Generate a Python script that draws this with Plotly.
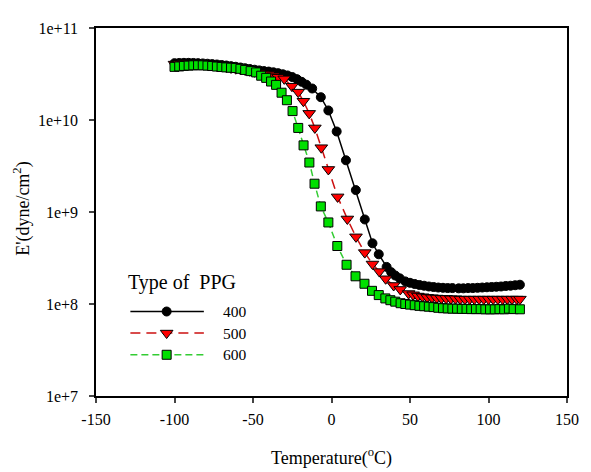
import plotly.graph_objects as go

# ---- data ----
t_400 = [-100, -97, -94, -91, -88, -85, -82, -79, -76, -73, -70, -67, -64, -61, -58, -55,
         -52, -49, -46, -43, -40, -37, -34, -31, -28, -25, -22, -19, -16, -12.3,
         -6.8, -2.0, 3.3, 9.2, 15.5, 21.2, 26.1, 30.1, 35.1, 38, 40.6, 43.5, 47, 50, 53, 56,
         59, 62, 65, 68, 71, 74, 77, 81, 84, 87, 90, 93, 96, 99, 102, 105, 108, 111, 114, 117, 120]
e_400 = [4.15e10, 4.17e10, 4.18e10, 4.18e10, 4.17e10, 4.15e10, 4.12e10, 4.09e10, 4.05e10, 4.01e10,
         3.96e10, 3.91e10, 3.85e10, 3.79e10, 3.72e10, 3.65e10, 3.58e10, 3.52e10, 3.46e10, 3.40e10,
         3.36e10, 3.30e10, 3.23e10, 3.14e10, 3.05e10, 2.93e10, 2.78e10, 2.60e10, 2.42e10, 2.20e10,
         1.77e10, 1.27e10, 7.5e9, 3.65e9, 1.73e9, 8.3e8, 4.57e8, 3.47e8, 2.53e8, 2.22e8, 2.04e8,
         1.90e8, 1.76e8, 1.70e8, 1.65e8, 1.61e8, 1.58e8, 1.55e8, 1.53e8, 1.51e8, 1.50e8, 1.49e8,
         1.49e8, 1.48e8, 1.48e8, 1.49e8, 1.49e8, 1.50e8, 1.51e8, 1.52e8, 1.53e8, 1.54e8, 1.55e8,
         1.57e8, 1.58e8, 1.60e8, 1.62e8]

t_500 = [-100, -97, -94, -91, -88, -85, -82, -79, -76, -73, -70, -67, -64, -61, -58, -55,
         -52, -49, -46, -43, -40, -37, -34, -30.1, -25.2, -21.2, -17.9, -14.2, -10.6, -6.5,
         -2.0, 3.9, 10.1, 15.6, 21.2, 26.1, 30.5, 34.5, 39.6, 43.8, 49.1, 52, 55, 58, 61, 64,
         67, 70, 73, 76, 79, 82, 85, 88, 91, 94, 97, 100, 103, 106, 109, 112, 115, 118, 120]
e_500 = [4.05e10, 4.08e10, 4.10e10, 4.10e10, 4.08e10, 4.05e10, 4.01e10, 3.97e10, 3.92e10, 3.87e10,
         3.81e10, 3.75e10, 3.68e10, 3.61e10, 3.55e10, 3.49e10, 3.42e10, 3.34e10, 3.27e10, 3.19e10,
         3.12e10, 3.02e10, 2.92e10, 2.80e10, 2.33e10, 2.01e10, 1.60e10, 1.18e10, 8.2e9, 5.0e9,
         2.9e9, 1.46e9, 8.4e8, 5.37e8, 3.62e8, 2.72e8, 2.25e8, 1.88e8, 1.59e8, 1.44e8, 1.30e8,
         1.26e8, 1.22e8, 1.20e8, 1.18e8, 1.17e8, 1.16e8, 1.15e8, 1.15e8, 1.14e8, 1.14e8, 1.13e8,
         1.13e8, 1.13e8, 1.13e8, 1.13e8, 1.13e8, 1.13e8, 1.13e8, 1.13e8, 1.13e8, 1.13e8, 1.13e8,
         1.13e8, 1.13e8]

t_600 = [-100, -97, -94, -91, -88, -85, -82, -79, -76, -73, -70, -67, -64, -61, -58, -55,
         -51.5, -48, -44.8, -41.6, -38.5, -35.3, -31.8, -28.4, -24.8, -21.2, -17.8, -14.1, -10.8,
         -6.8, -2.0, 3.7, 9.6, 15.3, 21.0, 25.8, 30.1, 34.3, 37.5, 40.6, 44, 47, 50, 53, 56, 59,
         62, 65, 68, 71, 74, 77, 80, 83, 86, 89, 92, 95, 98, 101, 104, 107, 110, 113, 116, 120]
e_600 = [3.78e10, 3.82e10, 3.87e10, 3.90e10, 3.93e10, 3.94e10, 3.93e10, 3.90e10, 3.86e10, 3.81e10,
         3.77e10, 3.73e10, 3.70e10, 3.67e10, 3.60e10, 3.50e10, 3.40e10, 3.29e10, 3.03e10, 2.87e10,
         2.62e10, 2.41e10, 1.98e10, 1.64e10, 1.25e10, 8.2e9, 5.3e9, 3.45e9, 2.03e9, 1.15e9, 7.7e8,
         4.27e8, 2.67e8, 2.00e8, 1.66e8, 1.39e8, 1.25e8, 1.15e8, 1.10e8, 1.06e8, 1.02e8, 1.00e8,
         9.85e7, 9.70e7, 9.55e7, 9.45e7, 9.35e7, 9.25e7, 9.10e7, 9.00e7, 8.95e7, 8.90e7, 8.90e7,
         8.85e7, 8.85e7, 8.80e7, 8.80e7, 8.80e7, 8.75e7, 8.75e7, 8.75e7, 8.80e7, 8.75e7, 8.90e7,
         8.80e7, 8.76e7]

series_names = ["400", "500", "600"]
x_tickvals = [-150, -100, -50, 0, 50, 100, 150]
x_ticktext = ["-150", "-100", "-50", "0", "50", "100", "150"]
y_tickvals = [1e7, 1e8, 1e9, 1e10, 1e11]
y_ticktext = ["1e+7", "1e+8", "1e+9", "1e+10", "1e+11"]

FONT = "Liberation Serif, Times New Roman, serif"

styles = [
    dict(line=dict(color="black", width=1.5),
         marker=dict(symbol="circle", size=9, color="black", line=dict(color="black", width=1))),
    dict(line=dict(color="#cc1010", width=1.5, dash="10px,6px"),
         marker=dict(symbol="triangle-down", size=11, color="#ff0000", line=dict(color="black", width=1))),
    dict(line=dict(color="#33cc33", width=1.5, dash="7px,4px"),
         marker=dict(symbol="square", size=9, color="#00e000", line=dict(color="black", width=1))),
]

fig = go.Figure()
for (t, e), st in zip([(t_400, e_400), (t_500, e_500), (t_600, e_600)], styles):
    fig.add_trace(go.Scatter(x=t, y=e, mode="lines+markers", showlegend=False,
                             line=st["line"], marker=st["marker"]))

# legend samples drawn on an overlay axis (0..1 over the plot area)
leg_y = [0.2296, 0.171, 0.112]
for yy, st in zip(leg_y, styles):
    fig.add_trace(go.Scatter(x=[0.073, 0.229], y=[yy, yy], mode="lines", line=st["line"],
                             xaxis="x2", yaxis="y2", showlegend=False, hoverinfo="skip"))
    fig.add_trace(go.Scatter(x=[0.150], y=[yy], mode="markers", marker=st["marker"],
                             xaxis="x2", yaxis="y2", showlegend=False, hoverinfo="skip"))

annotations = [
    dict(text="Type of\u00a0 PPG", x=0.064, y=0.3075, xref="paper", yref="paper",
         xanchor="left", yanchor="middle", showarrow=False, font=dict(family=FONT, size=20, color="black")),
]
for name, yy in zip(series_names, leg_y):
    annotations.append(dict(text=name, x=0.266, y=yy, xref="paper", yref="paper",
                            xanchor="left", yanchor="middle", showarrow=False,
                            font=dict(family=FONT, size=15.5, color="black")))
annotations.append(dict(text="Temperature(<sup>o</sup>C)", x=0.5, y=-0.166, xref="paper", yref="paper",
                        xanchor="center", yanchor="middle", showarrow=False,
                        font=dict(family=FONT, size=18, color="black")))
annotations.append(dict(text="E'(dyne/cm<sup>2</sup>)", x=-0.156, y=0.51, xref="paper", yref="paper",
                        xanchor="center", yanchor="middle", showarrow=False, textangle=-90,
                        font=dict(family=FONT, size=18, color="black")))

# page body has an 8px margin, so the figure is sized/offset to compensate
fig.update_layout(
    width=583, height=464,
    margin=dict(l=88, r=22, t=14, b=76),
    paper_bgcolor="white", plot_bgcolor="white",
    font=dict(family=FONT, size=16, color="black"),
    annotations=annotations,
    xaxis=dict(range=[-150, 150], tickvals=x_tickvals, ticktext=x_ticktext, ticks="outside",
               ticklen=5, tickwidth=1.5,
               showline=True, linewidth=1.5, linecolor="black", mirror=True, showgrid=False,
               zeroline=False, tickfont=dict(family=FONT, size=16), ticklabelstandoff=3),
    yaxis=dict(type="log", range=[7, 11], tickvals=y_tickvals, ticktext=y_ticktext,
               ticks="outside", ticklen=5, tickwidth=1.5, showline=True, linewidth=1.5,
               linecolor="black", mirror=True, showgrid=False, zeroline=False,
               tickfont=dict(family=FONT, size=16), ticklabelstandoff=8),
    xaxis2=dict(range=[0, 1], overlaying="x", anchor="y2", visible=False, fixedrange=True),
    yaxis2=dict(range=[0, 1], overlaying="y", anchor="x2", visible=False, fixedrange=True),
)

fig.write_html("out.html")
